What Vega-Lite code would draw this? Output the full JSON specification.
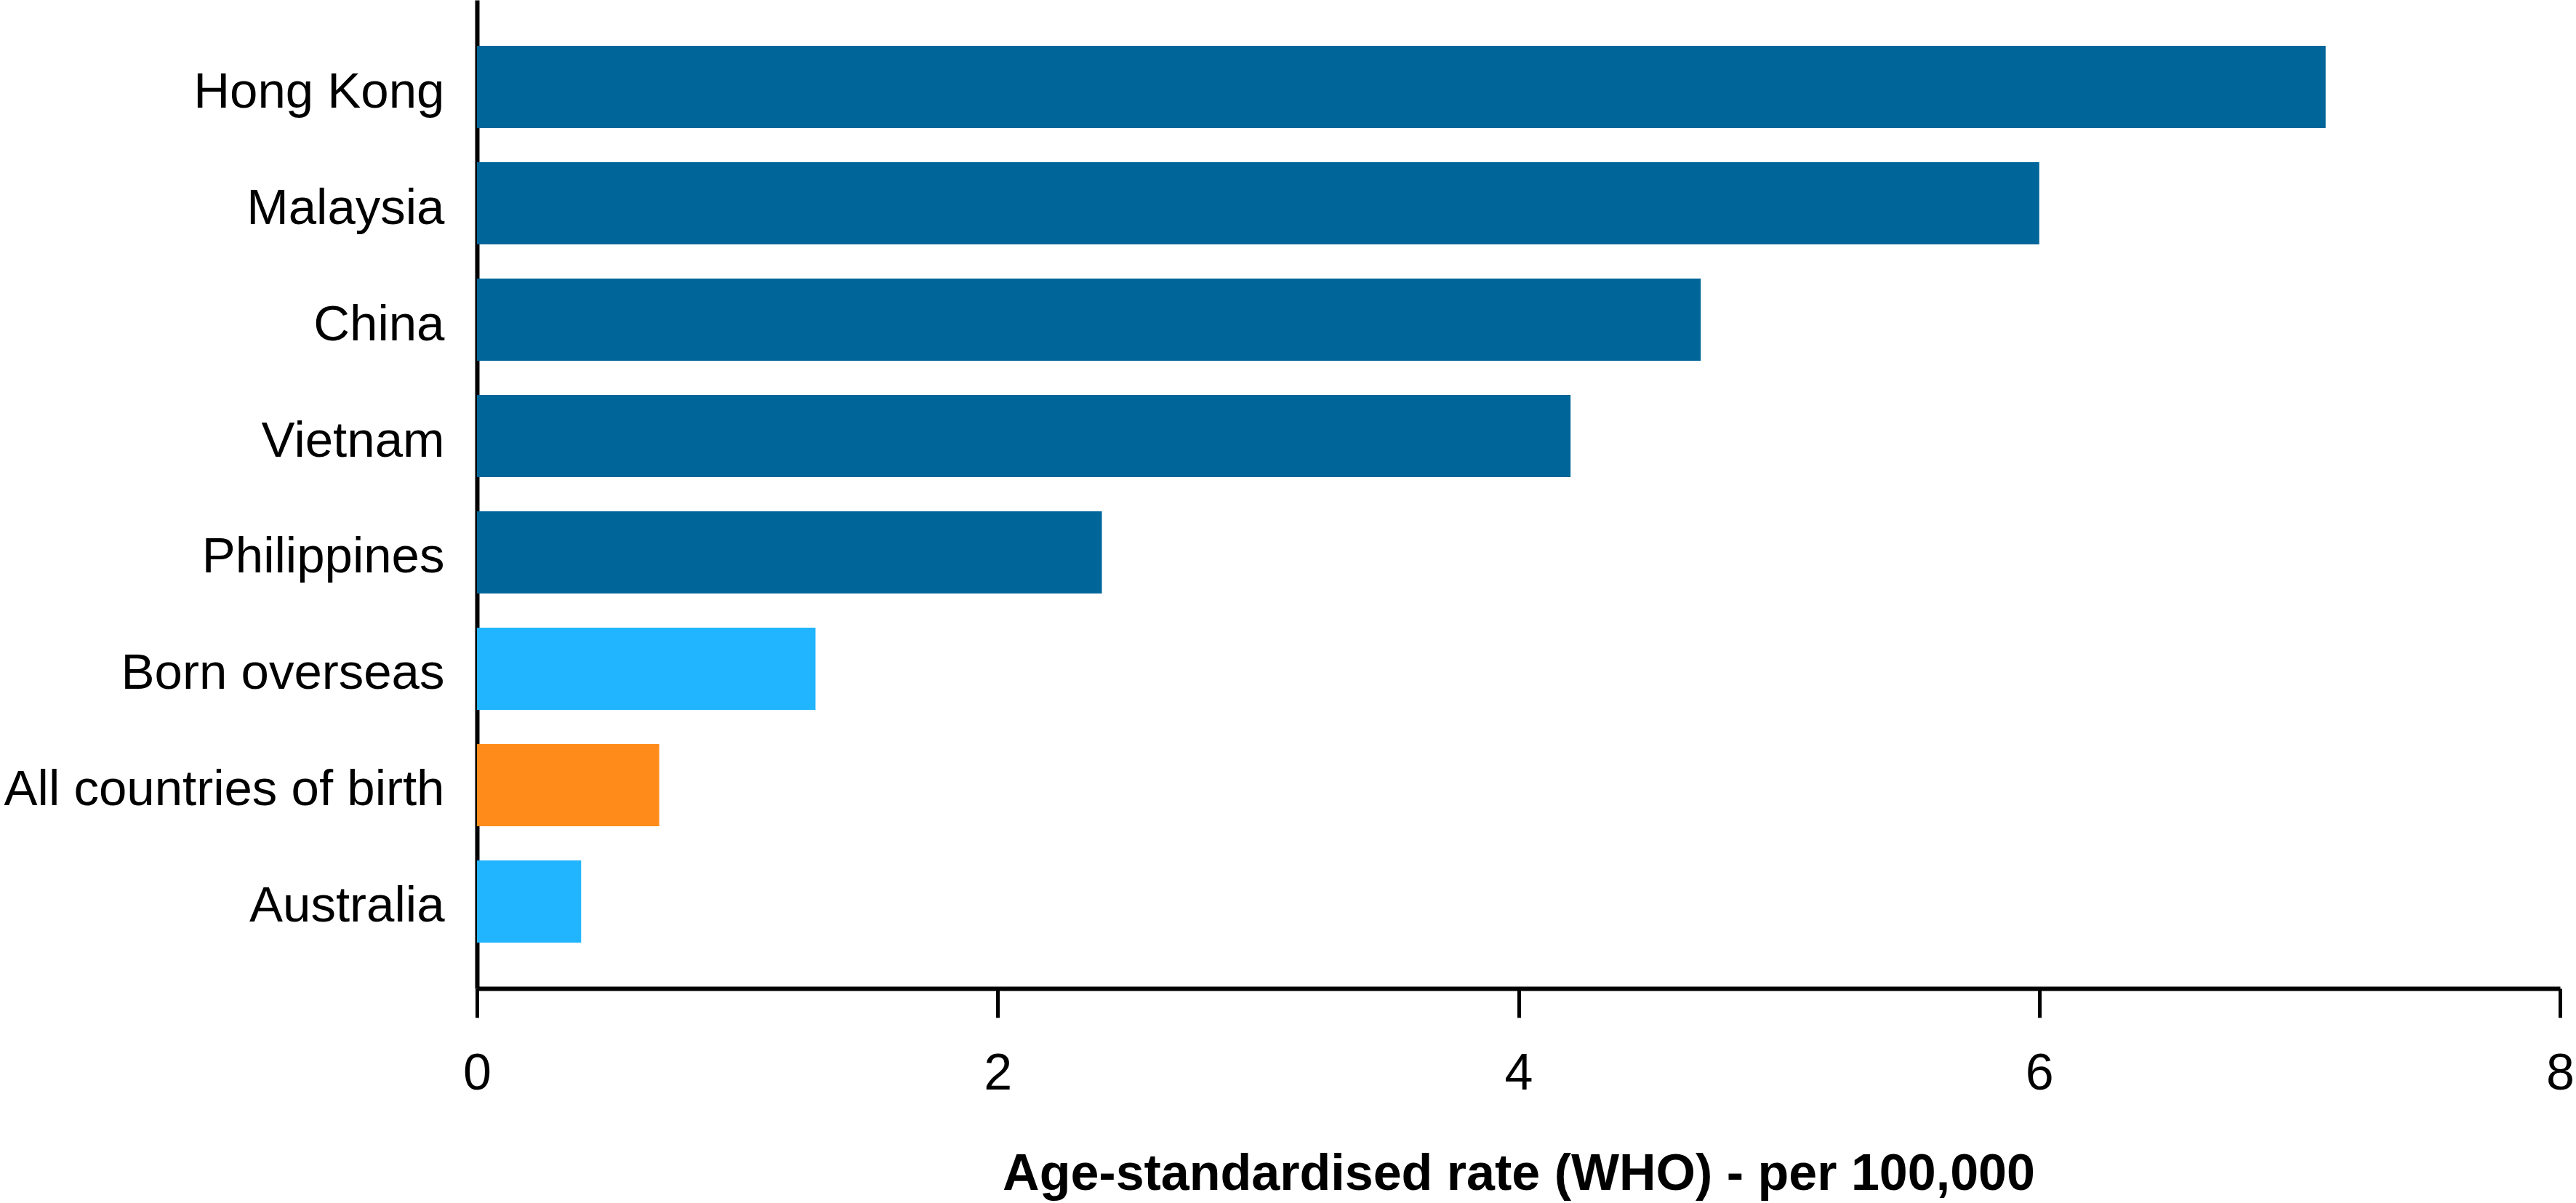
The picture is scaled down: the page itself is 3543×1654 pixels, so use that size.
{
  "$schema": "https://vega.github.io/schema/vega-lite/v6.json",
  "autosize": {"type": "none"},
  "padding": {"left": 656, "top": 0, "right": 22, "bottom": 295},
  "width": 2865,
  "height": 1359,
  "background": "white",
  "config": {
    "view": {"stroke": null},
    "font": "Liberation Sans",
    "axis": {"grid": false, "domainColor": "black", "domainWidth": 6, "labelColor": "black", "titleColor": "black", "labelFont": "Liberation Sans", "titleFont": "Liberation Sans"}
  },
  "data": {
    "values": [
      {"country": "Hong Kong", "rate": 7.1, "group": "Country"},
      {"country": "Malaysia", "rate": 6.0, "group": "Country"},
      {"country": "China", "rate": 4.7, "group": "Country"},
      {"country": "Vietnam", "rate": 4.2, "group": "Country"},
      {"country": "Philippines", "rate": 2.4, "group": "Country"},
      {"country": "Born overseas", "rate": 1.3, "group": "Birthplace"},
      {"country": "All countries of birth", "rate": 0.7, "group": "All"},
      {"country": "Australia", "rate": 0.4, "group": "Birthplace"}
    ]
  },
  "mark": {"type": "bar"},
  "encoding": {
    "y": {
      "field": "country",
      "type": "nominal",
      "sort": null,
      "scale": {"paddingInner": 0.294, "paddingOuter": 0.394},
      "axis": {"title": null, "ticks": false, "tickSize": 0, "labelPadding": 45, "labelFontSize": 69, "labelLimit": 1000, "labelBaseline": "alphabetic", "labelOffset": 28}
    },
    "x": {
      "field": "rate",
      "type": "quantitative",
      "scale": {"domain": [0, 8], "nice": false},
      "axis": {
        "values": [0, 2, 4, 6, 8],
        "title": "Age-standardised rate (WHO) - per 100,000",
        "titleFontSize": 70,
        "titleFontWeight": "bold",
        "titleBaseline": "alphabetic",
        "titleY": 276,
        "labelFontSize": 70,
        "labelPadding": 43,
        "tickSize": 40,
        "tickWidth": 5,
        "tickColor": "black",
        "labelFlush": false
      }
    },
    "color": {
      "field": "group",
      "type": "nominal",
      "scale": {"domain": ["Country", "Birthplace", "All"], "range": ["#006699", "#21B4FF", "#FF8C1A"]},
      "legend": null
    }
  }
}
